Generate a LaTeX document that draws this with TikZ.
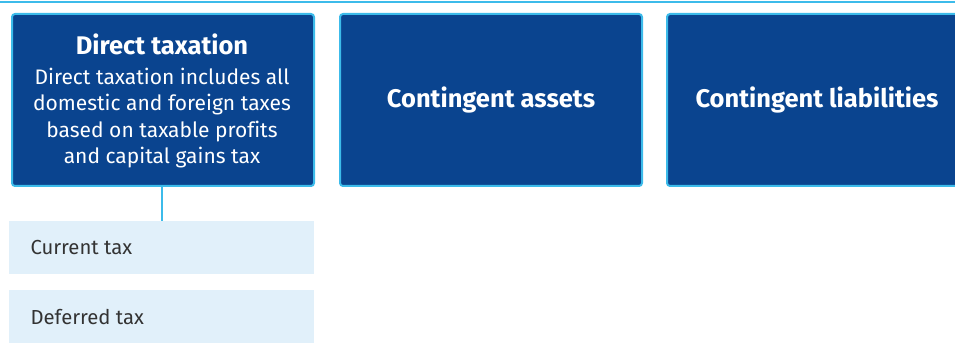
\documentclass[tikz,border=0pt]{standalone}
\usepackage{fontspec}
\setmainfont[Ligatures=NoCommon]{Fira Sans}
\definecolor{darkbox}{HTML}{0A448F}
\definecolor{edge}{HTML}{3CBBEA}
\definecolor{lightbox}{HTML}{E1F0FA}
\definecolor{txtgray}{HTML}{333333}
\tikzset{
  x=1pt,y=-1pt,
  bigbox/.style={draw=edge,line width=2pt,fill=darkbox,rounded corners=3pt,minimum width=302pt,minimum height=172pt,inner sep=0pt,anchor=north west},
  subbox/.style={fill=lightbox,minimum width=305pt,minimum height=53pt,inner sep=0pt,anchor=north west},
  title/.style={text=white,font=\fontsize{25.5}{30}\selectfont\bfseries},
  body/.style={text=white,font=\fontsize{21}{26.3}\selectfont,align=center},
  subtext/.style={text=txtgray,font=\fontsize{20.3}{24}\selectfont,anchor=west},
  link/.style={draw=edge,line width=1.5pt}
}
\begin{document}
\begin{tikzpicture}
\useasboundingbox (0,0) rectangle (955,347);
\draw[link,line width=2pt] (0,2) -- (955,2);
\node[bigbox] (b1) at (11,13) {};
\node[bigbox] (b2) at (339,13) {};
\node[bigbox,minimum width=320pt] (b3) at (666,13) {};
\node[title] (t1) at (162,44) {Direct taxation};
\node[body] (d1) at (162,118) {Direct taxation includes all\\domestic and foreign taxes\\based on taxable profits\\and capital gains tax};
\node[title] (t2) at (b2.center) {Contingent assets};
\node[title] (t3) at (817,100) {Contingent liabilities};
\node[subbox] (s1) at (9,221) {};
\node[subbox] (s2) at (9,290) {};
\node[subtext] (c1) at (27,248) {Current tax};
\node[subtext] (c2) at (27,317) {Deferred tax};
\draw[link] (b1.south -| t1) -- (s1.north -| t1);
\end{tikzpicture}
\end{document}
